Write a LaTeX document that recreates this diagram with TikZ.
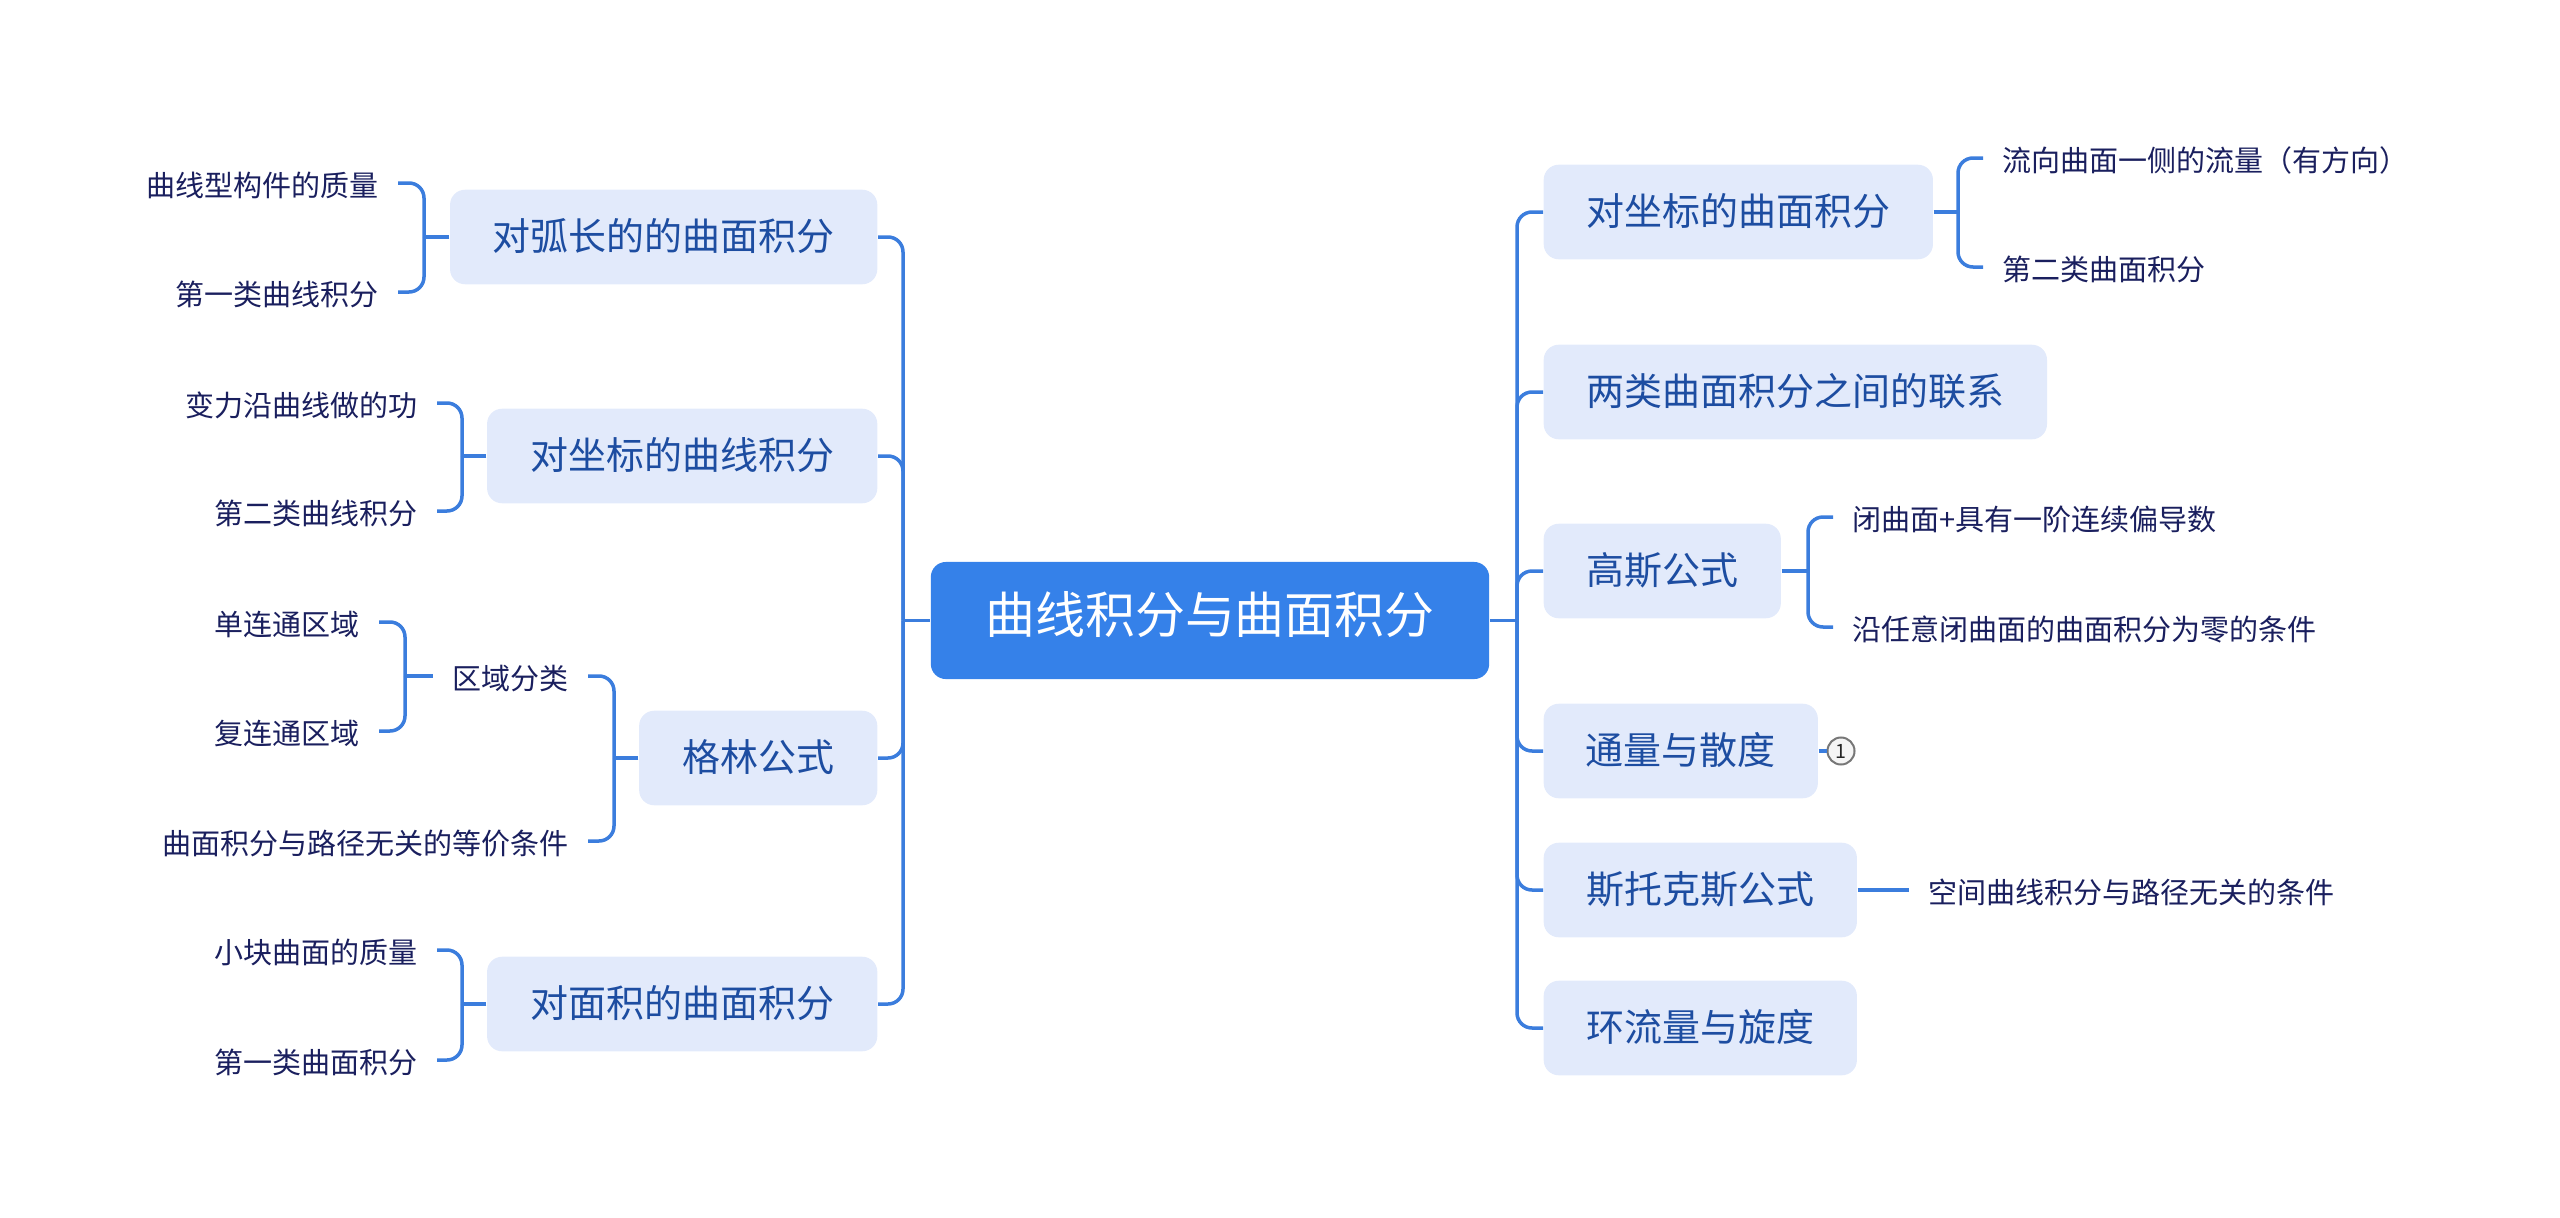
\documentclass[tikz,border=0pt]{standalone}
\usepackage{fontspec}
\setmainfont{Noto Sans CJK SC}
\definecolor{connc}{HTML}{3B7DDD}
\definecolor{rootc}{HTML}{3581E9}
\definecolor{boxc}{HTML}{E2EAFB}
\definecolor{lonec}{HTML}{1D4DA1}
\definecolor{ltwoc}{HTML}{1A1F5E}
\definecolor{badgec}{HTML}{777777}
\tikzset{
  rootbox/.style={fill=rootc, rounded corners=0.15cm, text=white,
    minimum width=5.58cm, minimum height=1.17cm, inner sep=0pt,
    font=\fontsize{14.2}{17}\selectfont, text height=0.85em, text depth=0.1em},
  onebox/.style={fill=boxc, rounded corners=0.15cm, text=lonec,
    minimum height=0.945cm, inner sep=0pt,
    font=\fontsize{10.8}{13}\selectfont, text height=0.85em, text depth=0.1em},
  leaf/.style={text=ltwoc, inner xsep=0.19cm, inner ysep=0.04cm,
    font=\fontsize{8.25}{10}\selectfont, text height=0.85em, text depth=0.1em},
  conn/.style={draw=connc, line width=0.035cm},
  rc/.style={rounded corners=0.15cm},
  badge/.style={circle, draw=badgec, fill=white!96!black, line width=0.02cm,
    minimum size=0.27cm, inner sep=0pt, text=black!85,
    font=\fontsize{5.6}{6}\selectfont}
}
\begin{document}
\begin{tikzpicture}[x=0.01cm,y=-0.01cm]
\useasboundingbox (0,0) rectangle (2560,1218);

% root
\node[rootbox] (root) at (1210,620.5) {曲线积分与曲面积分};

% left level-1
\node[onebox, minimum width=4.27cm, anchor=east] (A1) at (878,237) {对弧长的的曲面积分};
\node[onebox, minimum width=3.90cm, anchor=east] (A2) at (878,456) {对坐标的曲线积分};
\node[onebox, minimum width=2.38cm, anchor=east] (A3) at (878,758) {格林公式};
\node[onebox, minimum width=3.90cm, anchor=east] (A4) at (878,1004) {对面积的曲面积分};

% right level-1
\node[onebox, minimum width=3.89cm, anchor=west] (R1) at (1543,212) {对坐标的曲面积分};
\node[onebox, minimum width=5.03cm, anchor=west] (R2) at (1543,392) {两类曲面积分之间的联系};
\node[onebox, minimum width=2.37cm, anchor=west] (R3) at (1543,571) {高斯公式};
\node[onebox, minimum width=2.74cm, anchor=west] (R4) at (1543,751) {通量与散度};
\node[onebox, minimum width=3.13cm, anchor=west] (R5) at (1543,890) {斯托克斯公式};
\node[onebox, minimum width=3.13cm, anchor=west] (R6) at (1543,1028) {环流量与旋度};

% left leaves
\node[leaf, anchor=east] (l11) at (398,183) {曲线型构件的质量};
\node[leaf, anchor=east] (l12) at (398,292) {第一类曲线积分};
\node[leaf, anchor=east] (l21) at (437,403) {变力沿曲线做的功};
\node[leaf, anchor=east] (l22) at (437,511) {第二类曲线积分};
\node[leaf, anchor=east] (l31) at (588,676) {区域分类};
\node[leaf, anchor=east] (l32) at (588,841) {曲面积分与路径无关的等价条件};
\node[leaf, anchor=east] (l311) at (379,622) {单连通区域};
\node[leaf, anchor=east] (l312) at (379,731) {复连通区域};
\node[leaf, anchor=east] (l41) at (437,950) {小块曲面的质量};
\node[leaf, anchor=east] (l42) at (437,1060) {第一类曲面积分};

% right leaves
\node[leaf, anchor=west] (r11) at (1983,158) {流向曲面一侧的流量（有方向）};
\node[leaf, anchor=west] (r12) at (1983,267) {第二类曲面积分};
\node[leaf, anchor=west] (r31) at (1833,517) {闭曲面+具有一阶连续偏导数};
\node[leaf, anchor=west] (r32) at (1833,627) {沿任意闭曲面的曲面积分为零的条件};
\node[leaf, anchor=west] (r51) at (1909,890) {空间曲线积分与路径无关的条件};

\node[badge] (b4) at (1841,751) {1};

% trunks
\coordinate (LT) at (903,620.5);
\coordinate (RT) at (1517,620.5);
\draw[conn] (root.west) -- (LT);
\draw[conn] (root.east) -- (RT);
\foreach \n in {A1,A2,A3,A4} \draw[conn,rc] (LT) |- (\n.east);
\foreach \n in {R1,R2,R3,R4,R5,R6} \draw[conn,rc] (RT) |- (\n.west);

% left brackets
\coordinate (j1) at (424,237);
\draw[conn] (A1.west) -- (j1);
\draw[conn,rc] (j1) |- (l11.east);
\draw[conn,rc] (j1) |- (l12.east);

\coordinate (j2) at (462,456);
\draw[conn] (A2.west) -- (j2);
\draw[conn,rc] (j2) |- (l21.east);
\draw[conn,rc] (j2) |- (l22.east);

\coordinate (j3) at (614,758);
\draw[conn] (A3.west) -- (j3);
\draw[conn,rc] (j3) |- (l31.east);
\draw[conn,rc] (j3) |- (l32.east);

\coordinate (j31) at (405,676);
\draw[conn] (l31.west) -- (j31);
\draw[conn,rc] (j31) |- (l311.east);
\draw[conn,rc] (j31) |- (l312.east);

\coordinate (j4) at (462,1004);
\draw[conn] (A4.west) -- (j4);
\draw[conn,rc] (j4) |- (l41.east);
\draw[conn,rc] (j4) |- (l42.east);

% right brackets
\coordinate (k1) at (1958,212);
\draw[conn] (R1.east) -- (k1);
\draw[conn,rc] (k1) |- (r11.west);
\draw[conn,rc] (k1) |- (r12.west);

\coordinate (k3) at (1808,571);
\draw[conn] (R3.east) -- (k3);
\draw[conn,rc] (k3) |- (r31.west);
\draw[conn,rc] (k3) |- (r32.west);

\draw[conn] (R4.east) -- (b4.west);
\draw[conn] (R5.east) -- (r51.west);
\end{tikzpicture}
\end{document}
